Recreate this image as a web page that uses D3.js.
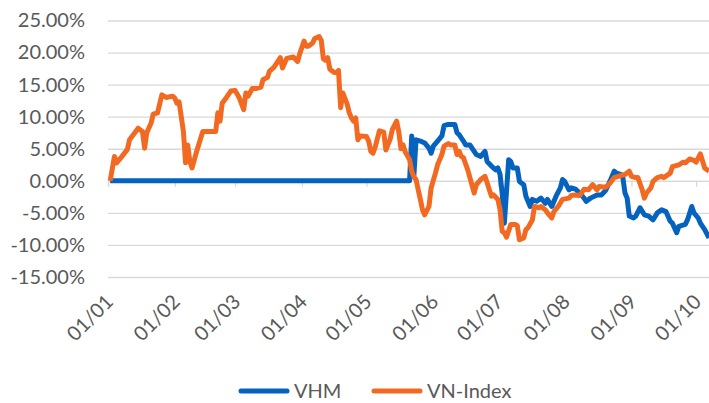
<!DOCTYPE html>
<html><head><meta charset="utf-8">
<script src="https://cdn.jsdelivr.net/npm/d3@7"></script>
<style>body{margin:0;background:#fff;} svg{display:block;}</style>
</head><body><svg id="c" width="709" height="403"></svg>
<script>
const tickDates = ["2018-01-01","2018-02-01","2018-03-01","2018-04-01","2018-05-01","2018-06-01","2018-07-01","2018-08-01","2018-09-01","2018-10-01"];
const tickLabels = ["01/01","01/02","01/03","01/04","01/05","01/06","01/07","01/08","01/09","01/10"];
const yTicks = [-15,-10,-5,0,5,10,15,20,25];
const seriesNames = ["VHM","VN-Index"];

const vnDates = ["2018-01-02","2018-01-04","2018-01-05","2018-01-07","2018-01-10","2018-01-11","2018-01-13","2018-01-15","2018-01-17","2018-01-18","2018-01-19","2018-01-21","2018-01-22","2018-01-24","2018-01-26","2018-01-28","2018-01-31",
"2018-02-01","2018-02-02","2018-02-03","2018-02-05","2018-02-06","2018-02-07","2018-02-08","2018-02-09","2018-02-11","2018-02-14","2018-02-20","2018-02-21","2018-02-22","2018-02-23","2018-02-25","2018-02-27",
"2018-03-01","2018-03-03","2018-03-05","2018-03-06","2018-03-07","2018-03-09","2018-03-11","2018-03-13","2018-03-14","2018-03-16","2018-03-17","2018-03-19","2018-03-22","2018-03-23","2018-03-25","2018-03-28","2018-03-30","2018-03-31",
"2018-04-02","2018-04-03","2018-04-04","2018-04-06","2018-04-07","2018-04-09","2018-04-10","2018-04-11","2018-04-12","2018-04-13","2018-04-14","2018-04-16","2018-04-17","2018-04-18","2018-04-19","2018-04-20","2018-04-22","2018-04-23","2018-04-24","2018-04-25","2018-04-26","2018-04-27","2018-04-28",
"2018-05-01","2018-05-02","2018-05-03","2018-05-04","2018-05-05","2018-05-07","2018-05-09","2018-05-10","2018-05-12","2018-05-13","2018-05-15","2018-05-16","2018-05-17","2018-05-18","2018-05-19","2018-05-21","2018-05-22","2018-05-23","2018-05-24","2018-05-25","2018-05-26","2018-05-27","2018-05-28","2018-05-30","2018-05-31",
"2018-06-02","2018-06-03","2018-06-05","2018-06-06","2018-06-08","2018-06-09","2018-06-11","2018-06-12","2018-06-13","2018-06-14","2018-06-15","2018-06-17","2018-06-18","2018-06-20","2018-06-21","2018-06-23","2018-06-25","2018-06-26","2018-06-28","2018-06-29",
"2018-07-01","2018-07-02","2018-07-03","2018-07-04","2018-07-05","2018-07-07","2018-07-09","2018-07-10","2018-07-11","2018-07-13","2018-07-14","2018-07-15","2018-07-17","2018-07-18","2018-07-20","2018-07-21","2018-07-23","2018-07-24","2018-07-26","2018-07-27","2018-07-29","2018-07-31",
"2018-08-03","2018-08-04","2018-08-06","2018-08-08","2018-08-10","2018-08-12","2018-08-14","2018-08-16","2018-08-17","2018-08-20","2018-08-22","2018-08-24","2018-08-27","2018-08-29","2018-08-31",
"2018-09-01","2018-09-03","2018-09-04","2018-09-06","2018-09-07","2018-09-08","2018-09-10","2018-09-11","2018-09-13","2018-09-15","2018-09-16","2018-09-19","2018-09-20","2018-09-23","2018-09-25","2018-09-26","2018-09-28","2018-09-30",
"2018-10-01","2018-10-03","2018-10-05","2018-10-07"];
const vnValues = [0.0,3.8,2.8,3.6,4.9,6.4,7.3,8.2,7.7,5.1,7.5,9.0,10.4,10.6,13.4,13.0,13.2,
12.9,12.1,12.3,7.7,2.8,5.6,3.0,2.0,4.4,7.7,7.7,10.6,9.3,12.1,13.0,14.0,
14.1,12.9,11.1,13.7,13.2,14.4,14.4,14.6,15.8,16.1,17.1,17.7,19.2,17.6,19.1,19.3,18.6,19.8,
21.8,21.0,21.0,21.5,22.2,22.5,21.9,19.0,18.8,19.2,17.4,16.9,16.9,17.2,11.4,13.7,12.0,10.6,9.8,9.3,9.8,6.4,7.0,
6.9,6.2,4.6,4.3,5.2,7.8,7.6,4.8,6.5,8.0,9.3,7.6,5.0,5.6,4.5,3.3,1.5,0.6,0.2,-1.4,-2.9,-4.5,-5.3,-4.0,-1.1,
1.2,2.5,4.1,5.4,5.8,5.6,5.6,4.1,4.6,3.8,3.6,1.7,0.5,-1.9,-0.6,0.2,0.7,-0.3,-2.4,-2.2,
-2.9,-4.5,-7.9,-8.1,-8.8,-6.8,-6.8,-7.0,-9.2,-8.9,-7.6,-7.3,-6.1,-4.0,-4.2,-4.0,-4.5,-5.0,-5.8,-4.8,-4.0,-2.9,
-2.7,-2.3,-2.2,-2.3,-1.3,-1.4,-0.6,-1.4,-0.9,-1.0,-0.4,0.5,0.8,1.0,1.5,
0.7,0.5,0.5,-1.4,-2.7,-1.9,-1.1,-0.1,0.5,0.7,0.5,1.2,2.2,2.5,2.9,2.8,3.4,3.2,
2.9,4.2,2.0,1.5];

const vhmDates = ["2018-01-02","2018-05-21","2018-05-22","2018-05-23","2018-05-24","2018-05-26","2018-05-28","2018-05-30","2018-05-31",
"2018-06-01","2018-06-03","2018-06-05","2018-06-06","2018-06-08","2018-06-11","2018-06-12","2018-06-13","2018-06-15","2018-06-16","2018-06-18","2018-06-20","2018-06-21","2018-06-23","2018-06-25","2018-06-26","2018-06-28","2018-06-30",
"2018-07-01","2018-07-02","2018-07-03","2018-07-04","2018-07-06","2018-07-07","2018-07-08","2018-07-10","2018-07-11","2018-07-13","2018-07-14","2018-07-16","2018-07-17","2018-07-19","2018-07-21","2018-07-23","2018-07-24","2018-07-26","2018-07-28","2018-07-30","2018-07-31",
"2018-08-01","2018-08-03","2018-08-04","2018-08-06","2018-08-08","2018-08-10","2018-08-11","2018-08-13","2018-08-16","2018-08-18","2018-08-20","2018-08-22","2018-08-24","2018-08-25","2018-08-27","2018-08-28","2018-08-29","2018-08-30","2018-08-31",
"2018-09-02","2018-09-03","2018-09-05","2018-09-07","2018-09-09","2018-09-11","2018-09-13","2018-09-15","2018-09-17","2018-09-19","2018-09-20","2018-09-22","2018-09-23","2018-09-26","2018-09-27","2018-09-29","2018-09-30",
"2018-10-02","2018-10-03","2018-10-05","2018-10-07"];
const vhmValues = [0,0,7.0,0.8,6.4,6.2,5.9,5.1,4.3,
5.4,6.2,7.0,8.6,8.8,8.8,7.5,7.2,6.2,5.6,5.6,4.6,4.1,3.8,4.6,3.0,2.3,1.7,
2.0,1.0,-2.0,-6.6,3.3,3.0,2.0,2.0,-0.1,-0.6,-2.4,-4.0,-2.9,-3.2,-2.7,-3.5,-2.9,-4.0,-2.4,-1.1,0.2,
-0.1,-1.4,-1.1,-1.3,-1.9,-2.7,-3.2,-2.7,-2.2,-2.2,-1.5,-0.1,1.5,1.2,1.0,0.5,-1.9,-2.7,-5.5,
-5.8,-5.5,-4.2,-5.3,-5.5,-6.1,-5.0,-4.5,-4.8,-6.3,-6.6,-8.1,-7.1,-6.8,-6.1,-4.0,-5.0,
-5.8,-6.6,-7.6,-8.9];

const colors = ["#0563BF", "#F26A22"];
const FONT = "Lato, 'Open Sans', sans-serif";
const FS = 20;
const parse = d3.utcParse("%Y-%m-%d");
const svg = d3.select("#c");
const mLeft = 108, mRight = 709, mTop = 20.5, mBottom = 277;

const x = d3.scaleUtc().domain([parse("2018-01-01"), parse("2018-10-07")]).range([mLeft, mRight]);
const y = d3.scaleLinear().domain([-15, 25]).range([mBottom, mTop]);

// gridlines
const grid = svg.append("g").attr("transform", `translate(${mLeft},0)`)
  .call(d3.axisLeft(y).tickValues(yTicks).tickSize(-(mRight - mLeft)).tickFormat(""));
grid.select(".domain").remove();
grid.selectAll(".tick line").attr("stroke", "#d9d9d9").attr("stroke-width", 1.3);

// y labels
const ya = svg.append("g").attr("transform", `translate(${mLeft},0)`)
  .call(d3.axisLeft(y).tickValues(yTicks).tickSize(0).tickPadding(23).tickFormat(d => d.toFixed(2) + "%"));
ya.select(".domain").remove();
ya.selectAll("text").attr("font-family", FONT).attr("font-size", FS).attr("fill", "#595959");

// x ticks on zero line
const xt = svg.append("g").attr("transform", `translate(0,${y(0)})`)
  .call(d3.axisBottom(x).tickValues(tickDates.map(parse)).tickSize(6).tickFormat(""));
xt.select(".domain").attr("stroke", "#d9d9d9").attr("stroke-width", 1.3);
xt.selectAll(".tick line").attr("stroke", "#d9d9d9").attr("stroke-width", 1.3);

// x labels at bottom
const xl = svg.append("g").attr("transform", `translate(0,${mBottom})`)
  .call(d3.axisBottom(x).tickValues(tickDates.map(parse)).tickSize(0).tickFormat((d, i) => tickLabels[i]));
xl.select(".domain").remove();
xl.selectAll("text")
  .attr("font-family", FONT).attr("font-size", FS).attr("fill", "#595959")
  .attr("text-anchor", "end")
  .attr("dy", null).attr("y", 0)
  .attr("transform", "translate(6,26) rotate(-45)");

const line = d3.line().x(d => x(d.date)).y(d => y(d.v));
const vhm = vhmDates.map((d, i) => ({date: parse(d), v: vhmValues[i]}));
const vn = vnDates.map((d, i) => ({date: parse(d), v: vnValues[i]}));
[vhm, vn].forEach((s, i) => {
  svg.append("path").datum(s).attr("d", line)
    .attr("fill", "none").attr("stroke", colors[i]).attr("stroke-width", 5)
    .attr("stroke-linejoin", "round").attr("stroke-linecap", "butt");
});

// legend
const legX = [241, 374];
const lg = svg.append("g");
seriesNames.forEach((n, i) => {
  lg.append("line").attr("x1", legX[i]).attr("x2", legX[i] + 46).attr("y1", 391).attr("y2", 391)
    .attr("stroke", colors[i]).attr("stroke-width", 5).attr("stroke-linecap", "round");
  lg.append("text").attr("x", legX[i] + 53).attr("y", 398).text(n)
    .attr("font-family", FONT).attr("font-size", FS).attr("fill", "#595959");
});
</script></body></html>
